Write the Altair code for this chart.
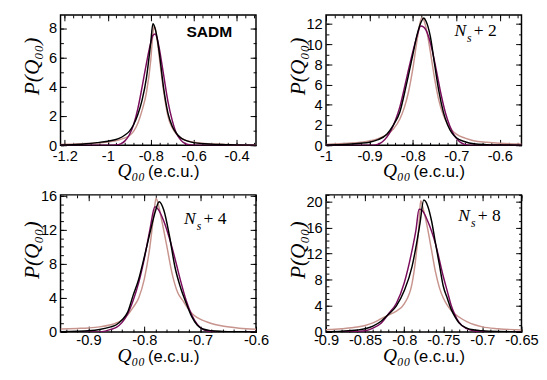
import altair as alt
import pandas as pd

# ---------------- data ----------------
# Panel 1: SADM
p1_black_x = [-1.22, -1.15, -1.10, -1.05, -1.00, -0.95, -0.92, -0.90, -0.88, -0.86, -0.84, -0.82, -0.80, -0.79, -0.78, -0.77, -0.76, -0.74, -0.72, -0.70, -0.68, -0.66, -0.64, -0.62, -0.60, -0.55, -0.50, -0.45, -0.40, -0.31]
p1_black_y = [0.02, 0.05, 0.10, 0.18, 0.28, 0.45, 0.70, 0.95, 1.40, 2.10, 3.10, 4.60, 7.00, 8.30, 8.00, 7.30, 6.30, 3.90, 2.20, 1.30, 0.80, 0.50, 0.35, 0.25, 0.18, 0.10, 0.06, 0.04, 0.02, 0.01]
p1_purple_x = [-1.22, -1.00, -0.96, -0.94, -0.92, -0.90, -0.88, -0.86, -0.84, -0.82, -0.80, -0.79, -0.78, -0.77, -0.76, -0.74, -0.72, -0.70, -0.68, -0.66, -0.64, -0.62, -0.60, -0.31]
p1_purple_y = [0, 0, 0.02, 0.10, 0.30, 0.70, 1.40, 2.50, 4.00, 5.60, 7.00, 7.50, 7.60, 7.30, 6.60, 4.80, 3.00, 1.70, 0.80, 0.35, 0.12, 0.03, 0, 0]
p1_pink_x = [-1.22, -1.10, -1.00, -0.95, -0.92, -0.90, -0.88, -0.86, -0.84, -0.82, -0.80, -0.79, -0.785, -0.78, -0.77, -0.76, -0.74, -0.72, -0.70, -0.68, -0.66, -0.64, -0.62, -0.60, -0.55, -0.50, -0.45, -0.40, -0.31]
p1_pink_y = [0.05, 0.12, 0.22, 0.35, 0.50, 0.65, 0.95, 1.50, 2.40, 3.60, 5.80, 7.60, 8.10, 8.00, 7.20, 6.00, 3.70, 2.00, 1.20, 0.75, 0.50, 0.35, 0.27, 0.20, 0.12, 0.08, 0.05, 0.04, 0.03]

# Panel 2: Ns + 2
p2_black_x = [-1.00, -0.95, -0.92, -0.90, -0.88, -0.86, -0.845, -0.83, -0.815, -0.80, -0.79, -0.78, -0.775, -0.77, -0.76, -0.75, -0.74, -0.73, -0.72, -0.71, -0.70, -0.68, -0.66, -0.63, -0.60, -0.55]
p2_black_y = [0.03, 0.10, 0.20, 0.30, 0.55, 1.10, 2.00, 3.30, 6.00, 9.00, 11.00, 12.30, 12.60, 12.30, 10.80, 8.00, 5.30, 3.30, 2.00, 1.20, 0.75, 0.35, 0.15, 0.06, 0.03, 0.01]
p2_purple_x = [-1.00, -0.89, -0.88, -0.87, -0.86, -0.85, -0.84, -0.83, -0.82, -0.81, -0.80, -0.79, -0.782, -0.775, -0.765, -0.755, -0.745, -0.735, -0.725, -0.715, -0.705, -0.695, -0.685, -0.675, -0.665, -0.55]
p2_purple_y = [0, 0, 0.10, 0.35, 0.80, 1.50, 2.50, 3.80, 5.60, 7.50, 9.30, 10.90, 11.80, 11.70, 10.90, 9.30, 7.20, 5.00, 3.20, 1.90, 1.00, 0.45, 0.15, 0.03, 0, 0]
p2_pink_x = [-1.00, -0.95, -0.92, -0.90, -0.88, -0.86, -0.845, -0.83, -0.82, -0.81, -0.80, -0.79, -0.78, -0.775, -0.77, -0.76, -0.75, -0.74, -0.73, -0.72, -0.71, -0.70, -0.68, -0.66, -0.63, -0.60, -0.55]
p2_pink_y = [0.08, 0.20, 0.30, 0.42, 0.65, 1.05, 1.60, 2.60, 3.70, 5.30, 7.60, 10.50, 12.60, 12.40, 11.70, 9.30, 6.60, 4.40, 3.00, 2.10, 1.50, 1.10, 0.70, 0.45, 0.30, 0.20, 0.12]

# Panel 3: Ns + 4
p3_black_x = [-0.95, -0.92, -0.90, -0.88, -0.86, -0.85, -0.84, -0.83, -0.82, -0.81, -0.80, -0.79, -0.78, -0.7735, -0.765, -0.755, -0.745, -0.735, -0.725, -0.715, -0.705, -0.695, -0.68, -0.66, -0.63, -0.60]
p3_black_y = [0.03, 0.08, 0.15, 0.30, 0.60, 0.85, 1.40, 2.30, 4.30, 6.20, 8.80, 11.60, 14.20, 15.30, 14.30, 11.30, 7.60, 5.20, 3.40, 1.80, 0.80, 0.35, 0.15, 0.07, 0.03, 0.01]
p3_purple_x = [-0.95, -0.88, -0.87, -0.86, -0.85, -0.84, -0.83, -0.82, -0.81, -0.80, -0.79, -0.781, -0.775, -0.765, -0.755, -0.745, -0.735, -0.725, -0.715, -0.705, -0.695, -0.685, -0.675, -0.60]
p3_purple_y = [0, 0, 0.10, 0.30, 0.55, 1.10, 2.10, 3.70, 5.80, 8.60, 12.00, 14.70, 14.40, 13.00, 11.00, 8.60, 6.00, 3.70, 2.00, 0.90, 0.30, 0.08, 0, 0]
p3_pink_x = [-0.95, -0.92, -0.90, -0.88, -0.86, -0.85, -0.84, -0.83, -0.82, -0.81, -0.80, -0.79, -0.783, -0.779, -0.775, -0.77, -0.76, -0.75, -0.74, -0.73, -0.72, -0.71, -0.70, -0.68, -0.66, -0.63, -0.60]
p3_pink_y = [0.35, 0.42, 0.48, 0.60, 0.85, 1.05, 1.40, 2.00, 2.90, 4.00, 6.20, 10.00, 13.80, 15.70, 15.00, 13.50, 10.20, 6.80, 4.60, 3.60, 2.60, 1.90, 1.50, 1.00, 0.70, 0.45, 0.32]

# Panel 4: Ns + 8
p4_black_x = [-0.90, -0.88, -0.86, -0.85, -0.84, -0.83, -0.82, -0.81, -0.80, -0.79, -0.785, -0.78, -0.775, -0.77, -0.765, -0.76, -0.755, -0.75, -0.745, -0.74, -0.735, -0.73, -0.72, -0.71, -0.70, -0.68, -0.65]
p4_black_y = [0.03, 0.12, 0.30, 0.50, 0.90, 1.60, 2.70, 4.00, 6.30, 10.00, 13.00, 16.50, 20.20, 19.30, 17.00, 13.60, 10.30, 7.00, 5.20, 3.50, 2.30, 1.40, 0.60, 0.30, 0.18, 0.07, 0.02]
p4_purple_x = [-0.90, -0.88, -0.86, -0.85, -0.84, -0.83, -0.82, -0.81, -0.80, -0.79, -0.785, -0.781, -0.777, -0.77, -0.76, -0.75, -0.745, -0.74, -0.735, -0.73, -0.72, -0.71, -0.70, -0.69, -0.65]
p4_purple_y = [0, 0.02, 0.10, 0.20, 0.60, 1.30, 2.80, 4.40, 7.50, 12.50, 15.60, 18.80, 18.60, 17.00, 13.50, 8.50, 6.30, 4.10, 2.60, 1.50, 0.50, 0.15, 0.05, 0, 0]
p4_pink_x = [-0.90, -0.88, -0.86, -0.85, -0.84, -0.83, -0.82, -0.81, -0.80, -0.79, -0.785, -0.781, -0.779, -0.776, -0.77, -0.765, -0.76, -0.755, -0.75, -0.745, -0.74, -0.73, -0.72, -0.71, -0.70, -0.68, -0.65]
p4_pink_y = [0.35, 0.50, 0.75, 1.00, 1.40, 2.00, 2.60, 3.20, 4.30, 7.40, 11.50, 16.50, 20.10, 19.00, 15.80, 12.50, 9.20, 6.80, 5.20, 4.10, 3.30, 2.30, 1.60, 1.10, 0.78, 0.50, 0.32]

# axis domains and tick values
p1_xdomain = [-1.22, -0.31]
p1_ydomain = [0, 8.9]
p1_xticks = [-1.2, -1.0, -0.8, -0.6, -0.4]
p1_yticks = [0, 2, 4, 6, 8]
p2_xdomain = [-1.0, -0.55]
p2_ydomain = [0, 12.9]
p2_xticks = [-1.0, -0.9, -0.8, -0.7, -0.6]
p2_yticks = [0, 2, 4, 6, 8, 10, 12]
p3_xdomain = [-0.95, -0.6]
p3_ydomain = [0, 16.1]
p3_xticks = [-0.9, -0.8, -0.7, -0.6]
p3_yticks = [0, 4, 8, 12, 16]
p4_xdomain = [-0.9, -0.65]
p4_ydomain = [0, 21]
p4_xticks = [-0.9, -0.85, -0.8, -0.75, -0.7, -0.65]
p4_yticks = [0, 4, 8, 12, 16, 20]

COL_BLACK = "#000000"
COL_PURPLE = "#7a0c5c"
COL_PINK = "#c8948e"

W = 201
H_TOP, H_BOTTOM = 134, 141
LABEL_FONT = "Liberation Sans"
SERIF = "Liberation Serif"


def minor_ticks(dom, step):
    lo, hi = min(dom), max(dom)
    n0 = int(round(lo / step)) - 1
    n1 = int(round(hi / step)) + 1
    return [round(k * step, 4) for k in range(n0, n1 + 1) if lo - 1e-9 <= k * step <= hi + 1e-9]


def axis(orient, values, size, labels, fmt, pad):
    return alt.Axis(orient=orient, values=values, tickSize=size, offset=-size,
                    domain=False, grid=False, labels=labels, title=None,
                    tickColor="black", tickWidth=1, labelFont=LABEL_FONT,
                    labelFontSize=15, labelColor="black", labelPadding=pad,
                    labelFlush=False, labelOverlap=False, format=fmt,
                    labelExpr="replace(datum.label, '\u2212', '-')",
                    minExtent=0)


def panel(curves, xdom, ydom, xticks, yticks, xstep, ystep, notes, h, ytitle_y, xtitle_dy, xpad):
    xs = alt.Scale(domain=xdom, nice=False, zero=False)
    ys = alt.Scale(domain=ydom, nice=False, zero=False)
    xmin = minor_ticks(xdom, xstep)
    ymin = minor_ticks(ydom, ystep)
    axis_sets = [
        (axis("bottom", xticks, 6, True, "~g", xpad), axis("left", yticks, 6, True, "d", 4)),
        (axis("top", xticks, 6, False, "~g", 4), axis("right", yticks, 6, False, "d", 4)),
        (axis("bottom", xmin, 3, False, "~g", 4), axis("left", ymin, 3, False, "d", 4)),
        (axis("top", xmin, 3, False, "~g", 4), axis("right", ymin, 3, False, "d", 4)),
    ]
    layers = []
    for i, (cx, cy, col) in enumerate(curves + [(curves[0][0], curves[0][1], None)]):
        df = pd.DataFrame({"x": cx, "y": cy})
        ax_x, ax_y = axis_sets[i]
        mk = alt.Chart(df).mark_line(interpolate="monotone", strokeWidth=1.5,
                                     color=col if col else "black",
                                     strokeOpacity=1 if col else 0, clip=True)
        layers.append(mk.encode(x=alt.X("x:Q", scale=xs, axis=ax_x),
                                y=alt.Y("y:Q", scale=ys, axis=ax_y)))
    # axis titles
    layers.append(alt.Chart(pd.DataFrame({"t": ["P(Q₀₀)"]})).mark_text(
        angle=270, font=SERIF, fontStyle="italic", fontSize=22, align="center",
        baseline="middle", color="black").encode(
        x=alt.value(-29), y=alt.value(ytitle_y), text="t:N"))
    layers.append(alt.Chart(pd.DataFrame({"t": ["Q₀₀"]})).mark_text(
        font=SERIF, fontStyle="italic", fontSize=20, align="right",
        baseline="alphabetic", color="black").encode(
        x=alt.value(87), y=alt.value(h + xtitle_dy), text="t:N"))
    layers.append(alt.Chart(pd.DataFrame({"t": ["(e.c.u.)"]})).mark_text(
        font=LABEL_FONT, fontSize=17, align="left",
        baseline="alphabetic", color="black").encode(
        x=alt.value(90), y=alt.value(h + xtitle_dy), text="t:N"))
    for (txt, x, y, font, style, weight, size, align) in notes:
        layers.append(alt.Chart(pd.DataFrame({"t": [txt]})).mark_text(
            font=font, fontStyle=style, fontWeight=weight, fontSize=size,
            align=align, baseline="alphabetic", color="black").encode(
            x=alt.value(x), y=alt.value(y), text="t:N"))
    return alt.layer(*layers).resolve_axis(x="independent", y="independent").properties(width=W, height=h)


def ns_note(n, x0, base):
    return [
        ("N", x0, base, SERIF, "italic", "normal", 18, "left"),
        ("s", x0 + 13, base + 6, SERIF, "italic", "normal", 12, "left"),
        ("+ " + n, x0 + 20, base, SERIF, "normal", "normal", 18, "left"),
    ]


p1 = panel([(p1_pink_x, p1_pink_y, COL_PINK), (p1_purple_x, p1_purple_y, COL_PURPLE), (p1_black_x, p1_black_y, COL_BLACK)],
           p1_xdomain, p1_ydomain, p1_xticks, p1_yticks, 0.04, 0.5,
           [("SADM", 153, 23, LABEL_FONT, "normal", "bold", 16, "center")],
           H_TOP, 53, 33, 4)
p2 = panel([(p2_pink_x, p2_pink_y, COL_PINK), (p2_purple_x, p2_purple_y, COL_PURPLE), (p2_black_x, p2_black_y, COL_BLACK)],
           p2_xdomain, p2_ydomain, p2_xticks, p2_yticks, 0.02, 1,
           ns_note("2", 132, 22), H_TOP, 53, 33, 4)
p3 = panel([(p3_pink_x, p3_pink_y, COL_PINK), (p3_purple_x, p3_purple_y, COL_PURPLE), (p3_black_x, p3_black_y, COL_BLACK)],
           p3_xdomain, p3_ydomain, p3_xticks, p3_yticks, 0.02, 1,
           ns_note("4", 127, 30), H_BOTTOM, 57, 31, 1)
p4 = panel([(p4_pink_x, p4_pink_y, COL_PINK), (p4_purple_x, p4_purple_y, COL_PURPLE), (p4_black_x, p4_black_y, COL_BLACK)],
           p4_xdomain, p4_ydomain, p4_xticks, p4_yticks, 0.01, 1,
           ns_note("8", 136, 27), H_BOTTOM, 57, 31, 1)

chart = alt.concat(p1, p2, p3, p4, columns=2, bounds="flush",
                   spacing={"row": 51, "column": 72}).properties(
    padding={"left": 13, "top": 0, "right": 0, "bottom": 0},
    background="white",
).configure_view(stroke="black", strokeWidth=1.5)

chart.save("out.html", embed_options={"renderer": "svg", "actions": False})
